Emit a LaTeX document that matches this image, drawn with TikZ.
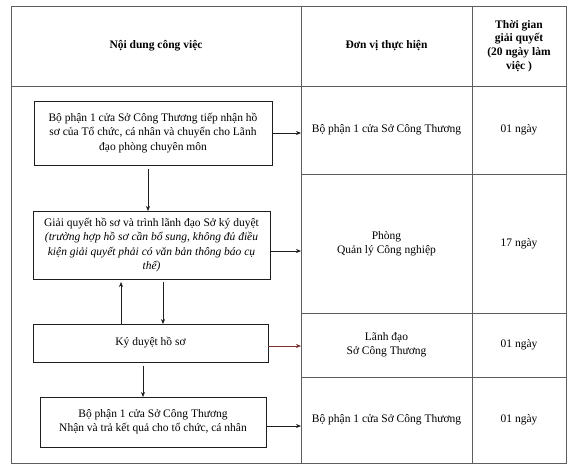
\documentclass[tikz,border=0pt]{standalone}
\usepackage{fontspec}
\setmainfont{Liberation Serif}
\usepackage{xcolor}
\definecolor{Rule}{HTML}{5E5E5E}
\definecolor{Ink}{HTML}{1E1E1E}
\definecolor{Oxblood}{HTML}{7A2E2E}
\usetikzlibrary{arrows.meta, positioning}

\begin{document}
\begin{tikzpicture}[x=1pt, y=-1pt, >={Stealth[length=5pt,width=4pt]},
  cell/.style={rectangle, draw=Rule, line width=0.7pt, inner sep=2pt, outer sep=0pt,
               align=center, font=\fontsize{11.5}{13.8}\selectfont},
  head/.style={cell, font=\fontsize{11.5}{13.8}\selectfont\bfseries},
  task/.style={rectangle, draw=Ink, line width=0.7pt, inner sep=2pt, outer sep=0pt,
               align=center, font=\fontsize{11.5}{14.2}\selectfont},
  arr/.style={->, line width=0.6pt, color=Ink}
]
\useasboundingbox (0,0) rectangle (575,471);

%% ---- Header row (y = 6 .. 86) ----
\node[head, minimum width=290, minimum height=80] (hdtask) at (156,46)   {Nội dung công việc};
\node[head, minimum width=171, minimum height=80] (hdunit) at (386.5,46) {Đơn vị thực hiện};
\node[head, minimum width=94,  minimum height=80] (hdtime) at (519,46)   {Thời gian\\giải quyết\\(20 ngày làm\\việc )};

%% ---- Left column: one cell holding the flow ----
\node[cell, minimum width=290, minimum height=377] (flow) at (156,274.5) {};

%% ---- Middle and right columns, one row per step ----
\node[cell, minimum width=171, minimum height=88]  (unit1) at (386.5,130)   {Bộ phận 1 cửa Sở Công Thương};
\node[cell, minimum width=171, minimum height=139] (unit2) at (386.5,243.5) {Phòng\\Quản lý Công nghiệp};
\node[cell, minimum width=171, minimum height=64]  (unit3) at (386.5,345)   {Lãnh đạo\\Sở Công Thương};
\node[cell, minimum width=171, minimum height=86]  (unit4) at (386.5,420)   {Bộ phận 1 cửa Sở Công Thương};

\node[cell, minimum width=94, minimum height=88]  (time1) at (519,130)   {01 ngày};
\node[cell, minimum width=94, minimum height=139] (time2) at (519,243.5) {17 ngày};
\node[cell, minimum width=94, minimum height=64]  (time3) at (519,345)   {01 ngày};
\node[cell, minimum width=94, minimum height=86]  (time4) at (519,420)   {01 ngày};

%% ---- Flow boxes ----
\node[task, minimum width=238, minimum height=64] (intake) at (153,133)
  {Bộ phận 1 cửa Sở Công Thương tiếp nhận hồ\\sơ của Tổ chức, cá nhân và chuyển cho Lãnh\\đạo phòng chuyên môn};
\node[task, minimum width=237, minimum height=68] (review) at (151.5,245)
  {Giải quyết hồ sơ và trình lãnh đạo Sở ký duyệt\\\itshape(trường hợp hồ sơ cần bổ sung, không đủ điều\\\itshape kiện giải quyết phải có văn bản thông báo cụ\\\itshape thể)};
\node[task, minimum width=235, minimum height=38] (sign)   at (150.5,343) {Ký duyệt hồ sơ};
\node[task, minimum width=226, minimum height=50] (result) at (153,422)
  {Bộ phận 1 cửa Sở Công Thương\\Nhận và trả kết quả cho tổ chức, cá nhân};

%% ---- Vertical arrows inside the flow ----
\draw[arr] ([xshift=-5pt,yshift=-4pt]intake.south) -- ([xshift=-5pt]intake.south |- review.north);
\draw[arr] ([xshift=11.5pt,yshift=-3pt]review.south) -- ([xshift=11.5pt]review.south |- sign.north);
% return to review sits left of the forward arrow
\draw[arr, shorten >=3pt] ([xshift=-29.5pt]sign.north) -- ([xshift=-29.5pt]sign.north |- review.south);
\draw[arr] ([xshift=-7.5pt,yshift=-4pt]sign.south) -- ([xshift=-7.5pt]sign.south |- result.north);

%% ---- Arrows out to the unit column ----
\draw[arr] (intake.east) -- (intake.east -| unit1.west);
\draw[arr] ([yshift=-6pt]review.east) -- ([yshift=-6pt]review.east -| unit2.west);
\draw[arr, color=Oxblood] ([yshift=-3pt]sign.east) -- ([yshift=-3pt]sign.east -| unit3.west);
\draw[arr] ([yshift=-4pt]result.east) -- ([yshift=-4pt]result.east -| unit4.west);

\end{tikzpicture}
\end{document}
